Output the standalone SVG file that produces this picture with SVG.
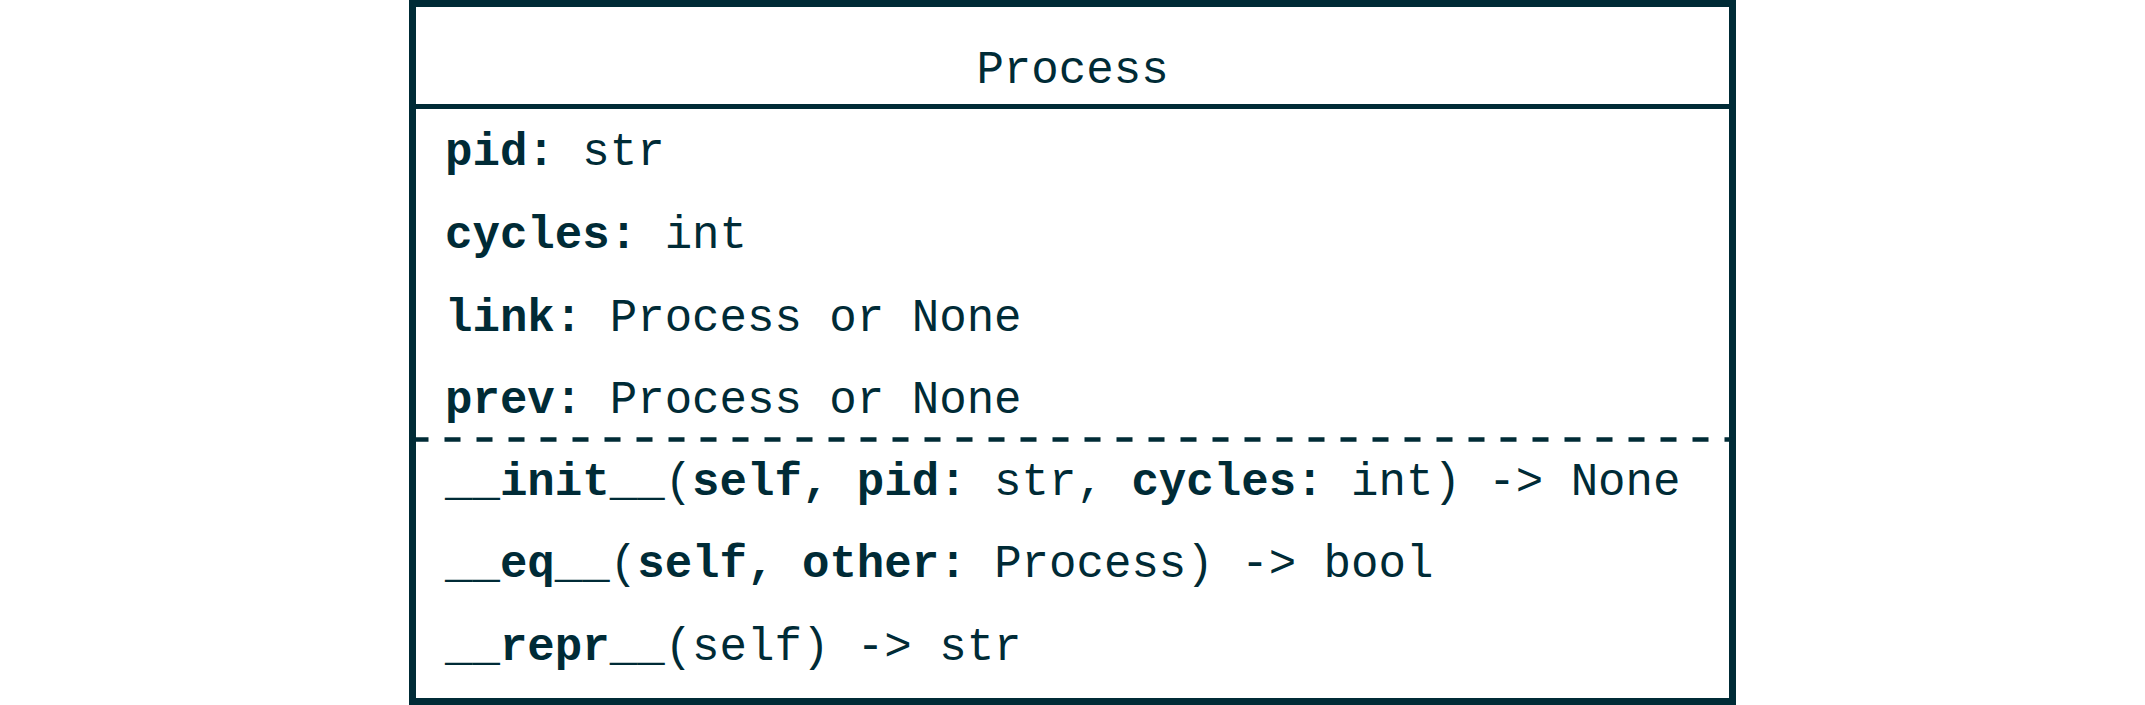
<svg xmlns="http://www.w3.org/2000/svg" width="2145" height="705" viewBox="0 0 2145 705">
<style>
.t{font-family:"Liberation Mono","Courier New",monospace;font-size:45.75px;fill:#002b36}
.b{font-weight:bold}
.box{fill:#ffffff;stroke:#002b36;stroke-width:7}
.sep{stroke:#002b36;stroke-width:5}
.dash{stroke:#002b36;stroke-width:4.5;stroke-dasharray:16 16}
</style>
<rect width="2145" height="705" fill="#ffffff"/>
<g id="process">
<rect class="box" x="412.5" y="3.5" width="1320" height="698"/>
<line class="sep" x1="412.5" y1="106.5" x2="1732.5" y2="106.5"/>
<line class="dash" x1="412.5" y1="439.5" x2="1732.5" y2="439.5"/>
<text class="t" x="1072.5" y="83" text-anchor="middle">Process</text>
<text class="t" x="445" y="165" xml:space="preserve"><tspan class="b">pid:</tspan> str</text>
<text class="t" x="445" y="248" xml:space="preserve"><tspan class="b">cycles:</tspan> int</text>
<text class="t" x="445" y="331" xml:space="preserve"><tspan class="b">link:</tspan> Process or None</text>
<text class="t" x="445" y="413" xml:space="preserve"><tspan class="b">prev:</tspan> Process or None</text>
<text class="t" x="445" y="495" xml:space="preserve"><tspan class="b">__init__</tspan>(<tspan class="b">self, pid:</tspan> str, <tspan class="b">cycles:</tspan> int) -&gt; None</text>
<text class="t" x="445" y="577" xml:space="preserve"><tspan class="b">__eq__</tspan>(<tspan class="b">self, other:</tspan> Process) -&gt; bool</text>
<text class="t" x="445" y="660" xml:space="preserve"><tspan class="b">__repr__</tspan>(self) -&gt; str</text>
</g>
<g id="connectors"></g>
</svg>
